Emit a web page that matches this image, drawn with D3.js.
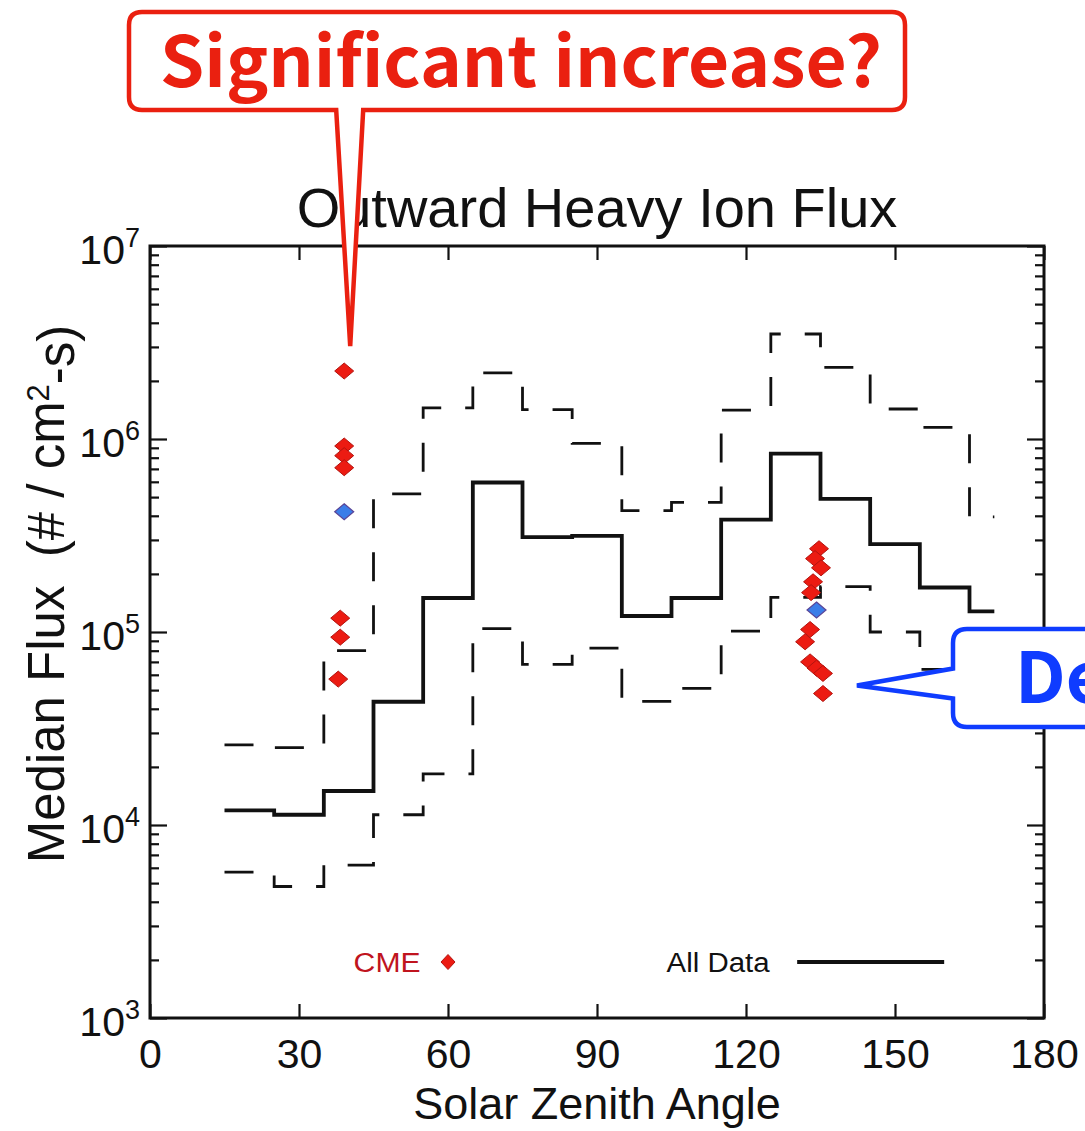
<!DOCTYPE html>
<html><head><meta charset="utf-8">
<script src="https://cdn.jsdelivr.net/npm/d3@7"></script>
<style>
html,body{margin:0;padding:0;background:#fff;overflow:hidden}
svg{display:block}
</style></head><body>
<svg id="chart" width="1085" height="1131"></svg>
<script>
// Solar zenith angle bin edges (deg); the last bin is half width
const binEdges = [15,25,35,45,55,65,75,85,95,105,115,125,135,145,155,165,170];
// Median outward heavy-ion flux per bin, all data (#/cm^2-s)
const medianFlux = [1.19e4,1.13e4,1.5e4,4.35e4,1.5e5,5.95e5,3.1e5,3.15e5,1.21e5,1.5e5,3.82e5,8.4e5,4.9e5,2.85e5,1.7e5,1.28e5];
// Upper and lower spread of the distribution in each bin
const upperFlux = [2.6e4,2.52e4,8.0e4,5.2e5,1.45e6,2.2e6,1.42e6,9.5e5,4.25e5,4.7e5,1.41e6,3.5e6,2.35e6,1.43e6,1.15e6,3.95e5];
const lowerFlux = [5.7e3,4.8e3,6.2e3,1.13e4,1.84e4,1.04e5,6.8e4,8.25e4,4.37e4,5.1e4,1.01e5,1.51e5,1.72e5,1.0e5,6.4e4,6.2e4];
// Individual CME-time medians
const cmeAngle = [39.1,39.1,39.1,39.1,38.3,38.3,37.9, 134.7,133.9,135.1,133.5,133.1,132.9,131.9,132.9,134.2,135.5,135.5];
const cmeFlux  = [2.25e6,9.2e5,8.2e5,7.1e5,1.18e5,9.4e4,5.7e4, 2.7e5,2.4e5,2.15e5,1.82e5,1.6e5,1.03e5,8.9e4,7.0e4,6.5e4,6.1e4,4.8e4];
// Median of the CME values in each group
const cmeMedianAngle = [39.1,134.2];
const cmeMedianFlux  = [4.2e5,1.3e5];
// Axis ticks
const xTicks = [0,30,60,90,120,150,180];
const yTicks = [1e3,1e4,1e5,1e6,1e7];
const yMinorTicks = [];
for (let e = 3; e < 7; e++) for (let m = 2; m <= 9; m++) yMinorTicks.push(m * Math.pow(10, e));

const svg = d3.select("#chart");
const plot = {left:150, right:1044, top:246, bottom:1018};
const x = d3.scaleLinear().domain([0,180]).range([plot.left, plot.right]);
const y = d3.scaleLog().domain([1e3,1e7]).range([plot.bottom, plot.top]);
const FONT = "'Liberation Sans', Arial, Helvetica, sans-serif";
const INK = "#111";

// ---- axes -------------------------------------------------------------
function styleAxis(g, fontSize){
  g.select(".domain").remove();
  g.selectAll(".tick line").attr("stroke", INK).attr("stroke-width", 2.2);
  g.selectAll("text").attr("font-family", FONT).attr("font-size", fontSize).attr("fill", INK);
}
const gBottom = svg.append("g").attr("transform", `translate(0,${plot.bottom})`)
  .call(d3.axisBottom(x).tickValues(xTicks).tickSize(-14).tickPadding(21).tickFormat(d3.format("d")));
styleAxis(gBottom, 41);

const gTop = svg.append("g").attr("transform", `translate(0,${plot.top})`)
  .call(d3.axisTop(x).tickValues(xTicks).tickSize(-14).tickFormat(""));
styleAxis(gTop, 0);

const gLeft = svg.append("g").attr("transform", `translate(${plot.left},0)`)
  .call(d3.axisLeft(y).tickValues(yTicks).tickSize(-17).tickPadding(10).tickFormat(""));
styleAxis(gLeft, 41);
gLeft.selectAll(".tick text").each(function(d){
  const t = d3.select(this).attr("dy", "0.42em");
  t.append("tspan").text("10");
  t.append("tspan").attr("dy", "-0.62em").attr("font-size", 27).text(Math.round(Math.log10(d)));
});
const gLeftMinor = svg.append("g").attr("transform", `translate(${plot.left},0)`)
  .call(d3.axisLeft(y).tickValues(yMinorTicks).tickSize(-9).tickFormat(""));
styleAxis(gLeftMinor, 0);

const gRight = svg.append("g").attr("transform", `translate(${plot.right},0)`)
  .call(d3.axisRight(y).tickValues(yTicks).tickSize(-17).tickFormat(""));
styleAxis(gRight, 0);
const gRightMinor = svg.append("g").attr("transform", `translate(${plot.right},0)`)
  .call(d3.axisRight(y).tickValues(yMinorTicks).tickSize(-9).tickFormat(""));
styleAxis(gRightMinor, 0);

svg.append("rect")
  .attr("x", plot.left).attr("y", plot.top)
  .attr("width", plot.right - plot.left).attr("height", plot.bottom - plot.top)
  .attr("fill", "none").attr("stroke", INK).attr("stroke-width", 3);

// ---- titles -----------------------------------------------------------
const midX = (plot.left + plot.right) / 2;
svg.append("text").attr("x", midX).attr("y", 227).attr("text-anchor", "middle")
  .attr("font-family", FONT).attr("font-size", 56).attr("fill", INK)
  .text("Outward Heavy Ion Flux");
svg.append("text").attr("x", midX).attr("y", 1119).attr("text-anchor", "middle")
  .attr("font-family", FONT).attr("font-size", 45).attr("fill", INK)
  .text("Solar Zenith Angle");
const yTitle = svg.append("text")
  .attr("transform", "translate(64,594) rotate(-90)").attr("text-anchor", "middle")
  .attr("font-family", FONT).attr("font-size", 51).attr("fill", INK)
  .style("white-space", "pre");
yTitle.append("tspan").text("Median Flux  (# / cm");
yTitle.append("tspan").attr("dy", "-0.5em").attr("font-size", 31).text("2");
yTitle.append("tspan").attr("dy", "0.5em").text("-s)");

// ---- step curves ------------------------------------------------------
function stepPoints(values){
  const pts = values.map((v, i) => [binEdges[i], v]);
  pts.push([binEdges[binEdges.length - 1], values[values.length - 1]]);
  return pts;
}
const stepLine = d3.line().x(d => x(d[0])).y(d => y(d[1])).curve(d3.curveStepAfter);

[upperFlux, lowerFlux].forEach(vals => {
  svg.append("path").attr("d", stepLine(stepPoints(vals)))
    .attr("fill", "none").attr("stroke", INK).attr("stroke-width", 2.8)
    .attr("stroke-dasharray", "29,24");
});
svg.append("path").attr("d", stepLine(stepPoints(medianFlux)))
  .attr("fill", "none").attr("stroke", INK).attr("stroke-width", 3.8)
  .attr("stroke-linejoin", "miter");

// ---- CME points -------------------------------------------------------
const diamond = (w, h) => `M0,${-h}L${w},0L0,${h}L${-w},0Z`;
svg.append("g").selectAll("path.cme")
  .data(cmeAngle.map((a, i) => [a, cmeFlux[i]]))
  .join("path").attr("class", "cme")
  .attr("transform", d => `translate(${x(d[0])},${y(d[1])})`)
  .attr("d", diamond(9.5, 8))
  .attr("fill", "#ec1b12").attr("stroke", "#b3140f").attr("stroke-width", 1);
svg.append("g").selectAll("path.cmeMed")
  .data(cmeMedianAngle.map((a, i) => [a, cmeMedianFlux[i]]))
  .join("path").attr("class", "cmeMed")
  .attr("transform", d => `translate(${x(d[0])},${y(d[1])})`)
  .attr("d", diamond(9.5, 8))
  .attr("fill", "#3b7de8").attr("stroke", "#5a4597").attr("stroke-width", 1.2);

// ---- legend -----------------------------------------------------------
const legY = plot.bottom - 56;
svg.append("text").attr("x", x(41)).attr("y", legY + 10)
  .attr("font-family", FONT).attr("font-size", 27).attr("fill", "#c0141e")
  .attr("textLength", 67).attr("lengthAdjust", "spacingAndGlyphs").text("CME");
svg.append("path").attr("transform", `translate(${x(60)},${legY})`)
  .attr("d", diamond(7, 7.5)).attr("fill", "#ec1b12").attr("stroke", "#b3140f");
svg.append("text").attr("x", x(104)).attr("y", legY + 10)
  .attr("font-family", FONT).attr("font-size", 27).attr("fill", INK)
  .attr("textLength", 103).attr("lengthAdjust", "spacingAndGlyphs").text("All Data");
svg.append("line").attr("x1", x(130.3)).attr("x2", x(159.9))
  .attr("y1", legY).attr("y2", legY).attr("stroke", INK).attr("stroke-width", 4);

// ---- callouts ---------------------------------------------------------
const CALL_FONT = "'Noto Sans CJK JP', 'Noto Sans', sans-serif";
const RED = "#ea2010", BLUE = "#0f3cff";

// red box above the plot, its tail pointing at the highest CME value
const rb = {x0:129, y0:12, x1:905, y1:110, r:13};
const redTip = [x(cmeAngle[0]) + 6, y(cmeFlux[0]) - 25];
svg.append("path")
  .attr("d", `M${rb.x0+rb.r},${rb.y0}H${rb.x1-rb.r}Q${rb.x1},${rb.y0} ${rb.x1},${rb.y0+rb.r}`
    + `V${rb.y1-rb.r}Q${rb.x1},${rb.y1} ${rb.x1-rb.r},${rb.y1}H${redTip[0]+13}`
    + `L${redTip[0]},${redTip[1]}L${redTip[0]-14},${rb.y1}H${rb.x0+rb.r}`
    + `Q${rb.x0},${rb.y1} ${rb.x0},${rb.y1-rb.r}V${rb.y0+rb.r}Q${rb.x0},${rb.y0} ${rb.x0+rb.r},${rb.y0}Z`)
  .attr("fill", "#fff").attr("stroke", RED).attr("stroke-width", 4.5).attr("stroke-linejoin", "miter");
const redText = svg.append("text").attr("x", 160).attr("y", 87)
  .attr("font-family", CALL_FONT).attr("font-weight", 700).attr("font-size", 70)
  .attr("fill", RED).text("Significant increase?");
const naturalRed = redText.node().getComputedTextLength();
const squeeze = 722 / naturalRed;
redText.attr("textLength", 722).attr("lengthAdjust", "spacingAndGlyphs");

// blue box at the right edge, its tail pointing at the lowest CME value
const bb = {x0:953, y0:629, x1:1110, y1:727, r:14};
const lowIdx = cmeFlux.length - 1;
const blueTip = [x(cmeAngle[lowIdx]) + 34, y(cmeFlux[lowIdx]) - 8];
svg.append("path")
  .attr("d", `M${bb.x1},${bb.y0}H${bb.x0+bb.r}Q${bb.x0},${bb.y0} ${bb.x0},${bb.y0+bb.r}`
    + `V${blueTip[1]-17}L${blueTip[0]},${blueTip[1]}L${bb.x0},${blueTip[1]+13}`
    + `V${bb.y1-bb.r}Q${bb.x0},${bb.y1} ${bb.x0+bb.r},${bb.y1}H${bb.x1}`)
  .attr("fill", "#fff").attr("stroke", BLUE).attr("stroke-width", 4.5).attr("stroke-linejoin", "miter");
const blueText = svg.append("text").attr("x", 1015).attr("y", 703)
  .attr("font-family", CALL_FONT).attr("font-weight", 700).attr("font-size", 70)
  .attr("fill", BLUE).text("Decrease?");
blueText.attr("textLength", blueText.node().getComputedTextLength() * squeeze)
  .attr("lengthAdjust", "spacingAndGlyphs");
</script>
</body></html>
